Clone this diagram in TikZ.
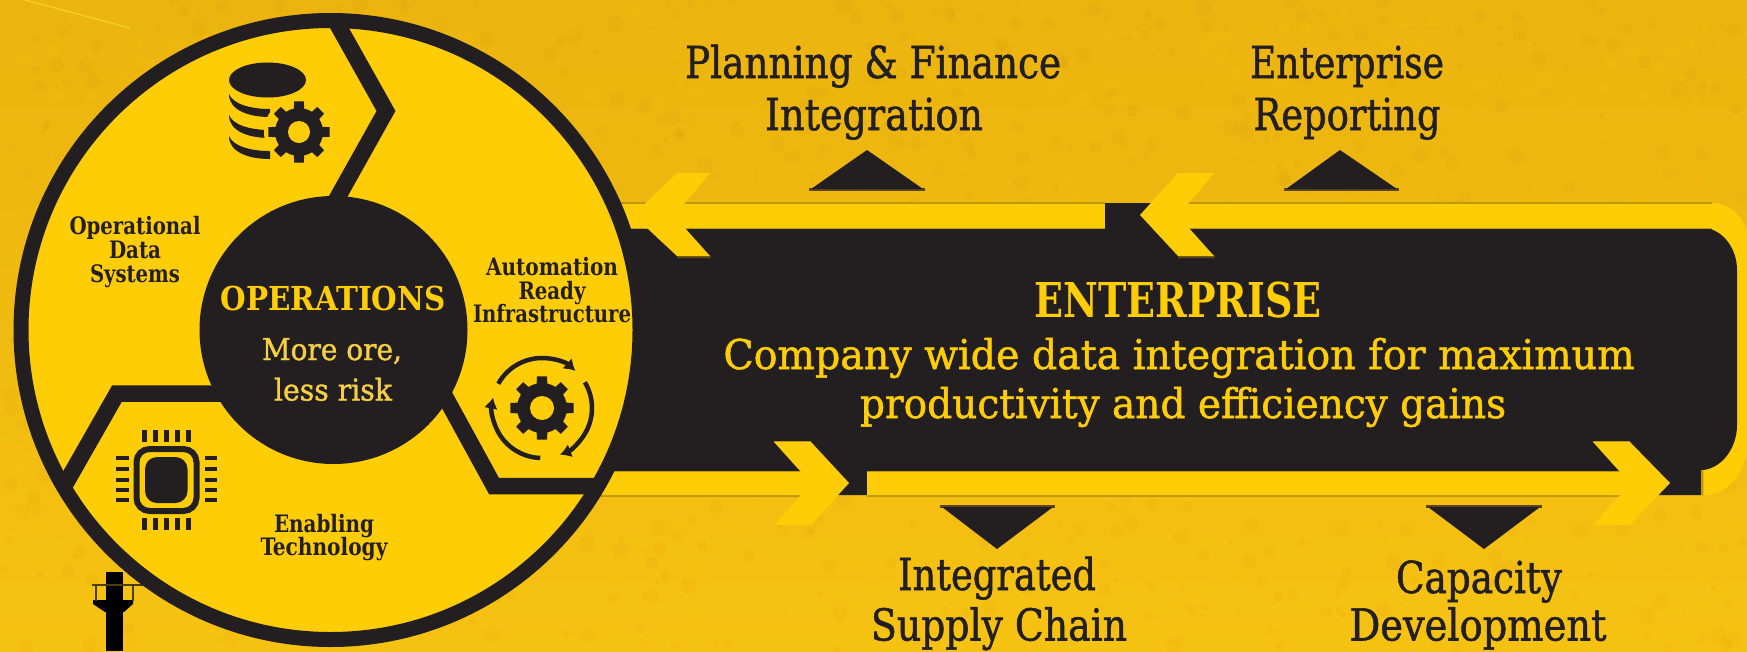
\documentclass[tikz,border=0pt]{standalone}
\usepackage{fontspec}
\usepackage{graphicx}
\usetikzlibrary{arrows.meta}
\setmainfont{DejaVu Serif Condensed}
\definecolor{ink}{HTML}{231F20}
\definecolor{sun}{HTML}{FFCD05}
\definecolor{paleSun}{HTML}{F6D042}
\definecolor{bgA}{HTML}{EBB40F}
\definecolor{bgB}{HTML}{F6C212}
\definecolor{rim}{HTML}{BE9A0F}
\definecolor{rimD}{HTML}{5C4612}
\newcommand\lw[2]{\resizebox{#1pt}{\height}{#2}}
\newcommand\geartool[4]{% x,y,outer,body
  \begin{scope}[shift={(#1,#2)}]
    \fill[ink] (0,0) circle[radius=#4pt];
    \foreach \a in {0,45,...,315}{
      \fill[ink] (\a-13:#4pt-1pt) -- (\a-9:#3pt) -- (\a+9:#3pt) -- (\a+13:#4pt-1pt) -- cycle;
    }
  \end{scope}}
\tikzset{
  label/.style={anchor=base,inner sep=0pt,outer sep=0pt,text=ink},
  big/.style={label,font=\addfontfeature{FakeBold=1.2}\fontsize{44}{44}\selectfont},
  mid/.style={label,text=sun,font=\addfontfeature{FakeBold=1.2}\fontsize{41}{41}\selectfont},
  small/.style={label,font=\bfseries\fontsize{24}{24}\selectfont},
  centre/.style={label,text=paleSun,font=\addfontfeature{FakeBold=1.2}\fontsize{30}{30}\selectfont},
  divider/.style={draw=ink,line width=16.5pt,miter limit=10,line join=miter},
  band/.style={fill=sun},
  bandrim/.style={fill=rim},
  tri/.style={fill=ink},
  tririm/.style={fill=rimD},
  pin/.style={fill=ink},
  cyc/.style={draw=ink,line width=4.5pt,-{Latex[length=11pt,width=14pt]}}
}
\begin{document}
\begin{tikzpicture}[x=1pt,y=-1pt]
\useasboundingbox (0,0) rectangle (1747,651);
\begin{scope}
\clip (0,0) rectangle (1747,651);
% ---- textured paper
\fill[top color=bgA,bottom color=bgB] (0,0) rectangle (1747,651);
\pgfmathsetseed{11}
\foreach \i in {1,...,1000}{
  \pgfmathsetmacro\px{rnd*1747}\pgfmathsetmacro\py{rnd*651}\pgfmathsetmacro\pr{1.5+rnd*7}
  \fill[black!30!orange,opacity=.04] (\px,\py) circle[radius=\pr pt];
}
\foreach \i in {1,...,1100}{
  \pgfmathsetmacro\px{rnd*1747}\pgfmathsetmacro\py{rnd*651}\pgfmathsetmacro\pr{1+rnd*6}
  \fill[yellow!75!orange,opacity=.06] (\px,\py) circle[radius=\pr pt];
}
\foreach \i in {1,...,70}{
  \pgfmathsetmacro\px{rnd*1747}\pgfmathsetmacro\py{rnd*651}\pgfmathsetmacro\qa{rnd*160-80}\pgfmathsetmacro\ql{20+rnd*70}
  \draw[yellow!60!orange,opacity=.3,line width=.8pt] (\px,\py) -- ++(\qa:\ql pt);
}
\draw[yellow!70!white,opacity=.4,line width=1.4pt] (25,0) -- (130,28);
% ---- enterprise block
\fill[sun] (1698,203) -- (1712,203) .. controls (1733,203) and (1745,220) .. (1750,240)
  -- (1750,440) .. controls (1746,468) and (1730,495) .. (1706,495) -- (1698,495) -- cycle;
\fill[ink] (600,203) -- (1700,203) -- (1707,228) .. controls (1725,232) and (1737,250) .. (1737,270)
  -- (1737,425) .. controls (1737,448) and (1722,468) .. (1703,470) -- (1703,495) -- (600,495) -- cycle;
\fill[rim] (1701,470) rectangle (1703,495);
% top left band
\fill[bandrim] (600,202) rectangle (1105,229);
\fill[band] (600,204) rectangle (1105,227.5);
\fill[rimD] (677,255) -- (710,255) -- (711,258) -- (677,258) -- cycle;
\fill[band] (633,215) -- (677,173) -- (710,173) -- (684,204) -- (700,204) -- (700,227) -- (684,227) -- (710,256) -- (677,256) -- cycle;
% top right band
\fill[bandrim] (1160,202) rectangle (1712,229);
\fill[band] (1160,204) rectangle (1712,227.5);
\fill[rimD] (1178,255) -- (1214,255) -- (1215,258) -- (1178,258) -- cycle;
\fill[band] (1140,215) -- (1178,173) -- (1214,173) -- (1188,204) -- (1200,204) -- (1200,227) -- (1188,227) -- (1214,256) -- (1178,256) -- cycle;
% bottom left band
\fill[bandrim] (600,470.5) rectangle (801,496.5);
\fill[band] (600,472) rectangle (801,495);
\fill[rim] (774,440.5) rectangle (811,442);
\fill[band] (849,483) -- (811,442) -- (774,442) -- (801,472) -- (785,472) -- (785,495) -- (801,495) -- (774,525) -- (811,525) -- cycle;
% bottom right band
\fill[bandrim] (867,470.5) rectangle (1620,496.5);
\fill[band] (867,472) rectangle (1620,495);
\fill[rim] (1593,440.5) rectangle (1630,442);
\fill[band] (1670,483) -- (1630,442) -- (1593,442) -- (1620,472) -- (1605,472) -- (1605,495) -- (1620,495) -- (1593,525) -- (1630,525) -- cycle;
% triangles
\fill[tririm] (809,188) rectangle (925,191);
\fill[tri] (867,150) -- (923,189) -- (811,189) -- cycle;
\fill[tririm] (1284,188) rectangle (1399,191);
\fill[tri] (1340,150) -- (1397,189) -- (1286,189) -- cycle;
\fill[tririm] (940,505) rectangle (1055,508);
\fill[tri] (942,507) -- (1053,507) -- (997,549) -- cycle;
\fill[tririm] (1426,505) rectangle (1542,508);
\fill[tri] (1428,507) -- (1540,507) -- (1484,549) -- cycle;
% ---- utility pole
\fill[black] (106,572) rectangle (123,651);
\fill[black] (93,600) -- (133,600) -- (133,604) -- (124,612) -- (105,612) -- (93,604) -- cycle;
\draw[black!70!sun,line width=1.5pt] (92,585) -- (144,585);
\draw[black!70!sun,line width=2.5pt] (96,585) -- (96,601) (133,585) -- (133,601);
% ---- wheel
\fill[sun] (330.5,330) circle[radius=310pt];
\draw[divider] (335,20) -- (386,111) -- (330,211);
\draw[divider] (250,393.5) -- (117,393.5) -- (62,490);
\draw[divider] (425,360) -- (494,486) -- (600,486);
\draw[ink,line width=15pt] (330.5,330) circle[radius=309.5pt];
\fill[ink] (333.5,330) circle[radius=134pt];
% ---- database icon
\fill[ink] (267.5,80) ellipse[x radius=38.5pt,y radius=17.5pt];
\foreach \d in {0,21,42}{
  \fill[ink] (229,94+\d) .. controls (233,104+\d) and (250,109+\d) .. (270,109+\d) -- (270,117+\d)
    .. controls (248,117+\d) and (229,110+\d) .. (229,94+\d) -- cycle;
}
\fill[sun] (299,132) circle[radius=35pt];
\geartool{299}{132}{31}{24}
\fill[sun] (299,132) circle[radius=11pt];
% ---- chip icon
\draw[ink,line width=6pt,rounded corners=13pt] (136.5,449) rectangle (196.5,511);
\fill[ink,rounded corners=12pt] (145,457) rectangle (187.5,503);
\foreach \q in {144.5,155.5,166.5,177.5,188.5}{
  \fill[pin] (\q-2.3,430) rectangle (\q+2.3,442);
  \fill[pin] (\q-2.3,518) rectangle (\q+2.3,530);
}
\foreach \q in {458,469,480,490,500}{
  \fill[pin] (116,\q-2.3) rectangle (129,\q+2.3);
  \fill[pin] (205,\q-2.3) rectangle (217,\q+2.3);
}
% ---- cycle-gear icon
\geartool{542}{408}{32}{25}
\fill[sun] (542,408) circle[radius=12pt];
\begin{scope}[shift={(542,408)}]
  \draw[cyc] (151:50pt) arc[start angle=151,end angle=48,radius=50pt];
  \draw[cyc] (31:50pt) arc[start angle=31,end angle=-69,radius=50pt];
  \draw[cyc] (-92:50pt) arc[start angle=-92,end angle=-192,radius=50pt];
\end{scope}
\end{scope}
% ---- outer labels
\node[big] (pf1) at (873,78) {\lw{376}{Planning \& Finance}};
\node[big] (pf2) at (874,130) {\lw{218}{Integration}};
\node[big] (er1) at (1347,78) {\lw{194}{Enterprise}};
\node[big] (er2) at (1347,130) {\lw{187}{Reporting}};
\node[big] (sc1) at (997,590) {\lw{198}{Integrated}};
\node[big] (sc2) at (999,640.5) {\lw{256}{Supply Chain}};
\node[big] (cd1) at (1479,593) {\lw{166}{Capacity}};
\node[big] (cd2) at (1478,640.5) {\lw{257}{Development}};
% ---- enterprise text
\node[label,text=sun,font=\bfseries\fontsize{48}{48}\selectfont] (ent) at (1178,317) {\lw{287}{ENTERPRISE}};
\node[mid] (ent1) at (1179,369) {\lw{911}{Company wide data integration for maximum}};
\node[mid] (ent2) at (1183,418) {\lw{646}{productivity and efficiency gains}};
% ---- wheel text
\node[label,text=sun,font=\bfseries\fontsize{33}{33}\selectfont] (op) at (333,310.5) {\lw{225}{OPERATIONS}};
\node[centre] (op1) at (332,360) {\lw{140}{More ore,}};
\node[centre] (op2) at (333,400.5) {\lw{118}{less risk}};
\node[small] (od1) at (135,234.5) {\lw{131}{Operational}};
\node[small] (od2) at (135,258) {\lw{52}{Data}};
\node[small] (od3) at (135,282) {\lw{90}{Systems}};
\node[small] (ar1) at (552,275) {\lw{132}{Automation}};
\node[small] (ar2) at (552,299) {\lw{67}{Ready}};
\node[small] (ar3) at (552,322.5) {\lw{158}{Infrastructure}};
\node[small] (et1) at (324,532.6) {\lw{100}{Enabling}};
\node[small] (et2) at (324,555.4) {\lw{127}{Technology}};
\end{tikzpicture}
\end{document}
